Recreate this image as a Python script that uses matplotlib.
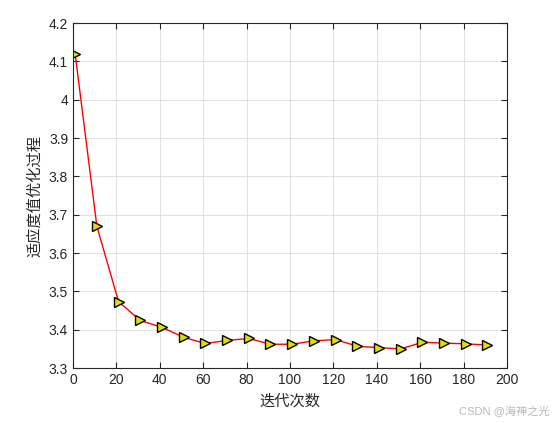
import numpy as np
import matplotlib.pyplot as plt

plt.rcParams['font.family'] = ['Liberation Sans', 'Noto Sans CJK SC', 'DejaVu Sans']

# 迭代次数与适应度值
iters = [1, 11, 21, 31, 41, 51, 61, 71, 81, 91, 101, 111, 121, 131, 141, 151, 161, 171, 181, 191]
fitness = [4.119, 3.670, 3.473, 3.424, 3.406, 3.380, 3.364, 3.372, 3.377, 3.362,
           3.362, 3.371, 3.374, 3.357, 3.353, 3.350, 3.367, 3.365, 3.363, 3.360]

fig = plt.figure(figsize=(5.58, 4.23), dpi=100)
ax = fig.add_axes([0.1308, 0.130, 0.7778, 0.8156])

ax.plot(iters, fitness, color='red', linewidth=1.0, marker='>', markersize=7.5,
        markerfacecolor='#e0e000', markeredgecolor='black', markeredgewidth=1.0)

ax.set_xlim(0, 200)
ax.set_ylim(3.3, 4.2)
ax.set_xticks(np.arange(0, 201, 20))
ax.set_yticks(np.arange(3.3, 4.21, 0.1))
ax.set_yticklabels(['3.3', '3.4', '3.5', '3.6', '3.7', '3.8', '3.9', '4', '4.1', '4.2'])
ax.grid(True, color='#dadada', linewidth=0.6)
ax.tick_params(direction='in', top=True, right=True, labelsize=10, length=4,
               colors='#262626')
for s in ax.spines.values():
    s.set_linewidth(0.8)
    s.set_color('#262626')

ax.set_xlabel('迭代次数', family=['Noto Sans CJK SC'], fontsize=11, color='#262626')
ax.set_ylabel('适应度值优化过程', family=['Noto Sans CJK SC'], fontsize=11, color='#262626')

fig.text(0.985, 0.015, 'CSDN @海神之光', ha='right', va='bottom', color='#b8b8b8',
         fontsize=8, family=['Liberation Sans', 'Noto Sans CJK SC'])

fig.savefig('out.png', dpi=100)
